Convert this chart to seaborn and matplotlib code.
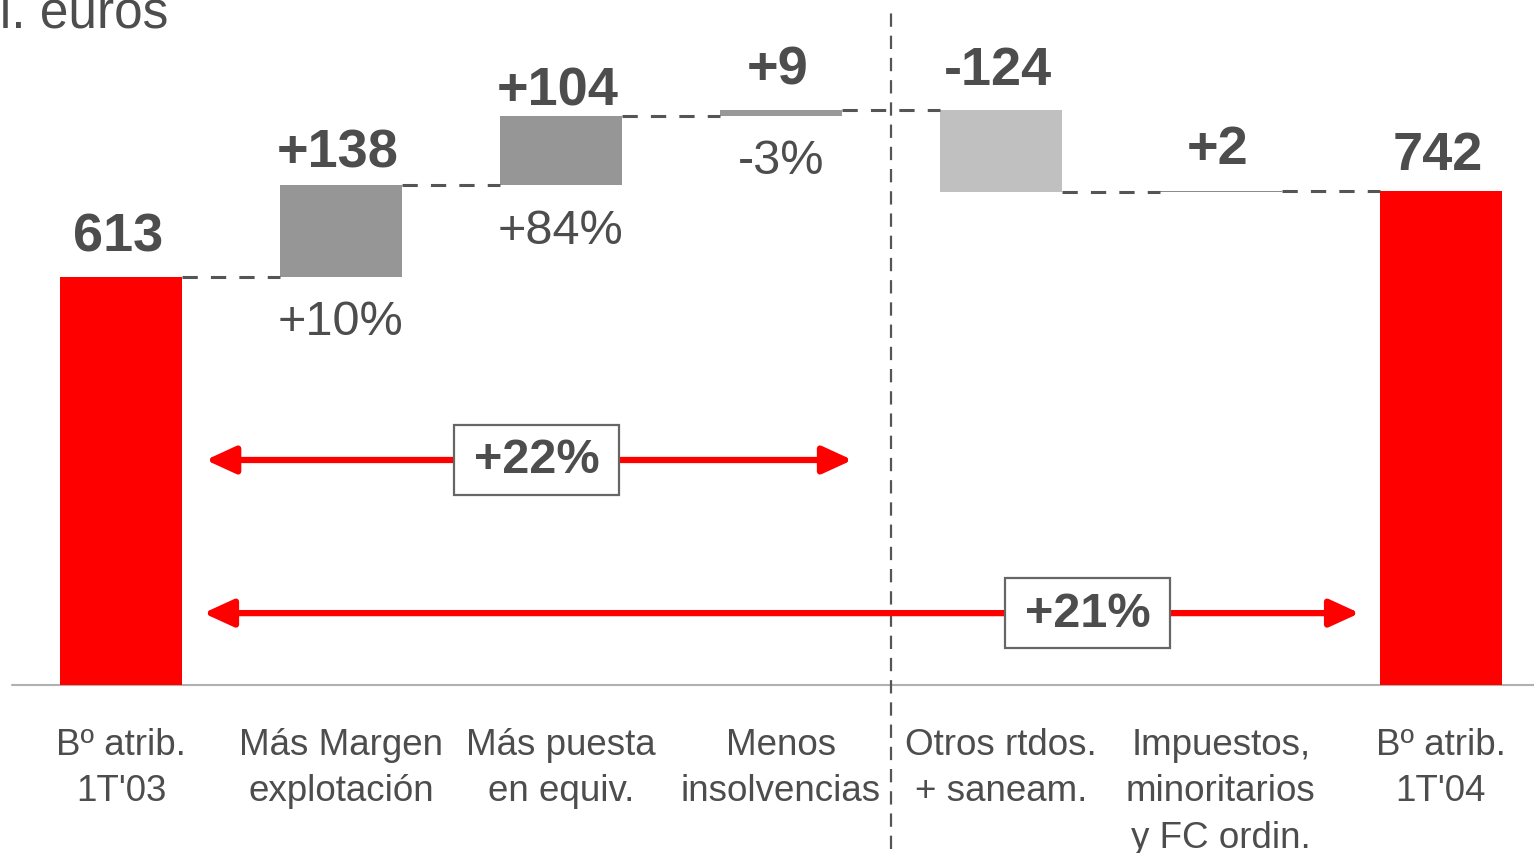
import numpy as np
import pandas as pd
import matplotlib
matplotlib.use("Agg")
import matplotlib.pyplot as plt
from matplotlib.patches import Rectangle
import seaborn as sns

# data
categories = ["Bº atrib.\n1T'03", "Más Margen\nexplotación", "Más puesta\nen equiv.",
              "Menos\ninsolvencias", "Otros rtdos.\n+ saneam.",
              "Impuestos,\nminoritarios\ny FC ordin.", "Bº atrib.\n1T'04"]
values = [613, 138, 104, 9, -124, 2, 742]
is_total = [True, False, False, False, False, False, True]
value_labels = ["613", "+138", "+104", "+9", "-124", "+2", "742"]
pct_labels = ["", "+10%", "+84%", "-3%", "", "", ""]
growth_labels = ["+22%", "+21%"]

# styling
bar_colors = ["#ff0000", "#969696", "#969696", "#999999", "#c0c0c0", "#8c8c8c", "#ff0000"]
label_gap_px = [40, 33, 25, 40, 40, 42, 36]

# waterfall geometry from the values
bottoms, heights, levels = [], [], []
running = 0
for v, tot in zip(values, is_total):
    if tot:
        bottoms.append(0)
        heights.append(v)
        running = v
    else:
        bottoms.append(min(running, running + v))
        heights.append(abs(v))
        running += v
    levels.append(running)

df = pd.DataFrame({"cat": categories, "height": heights})

sns.set_theme(style="white")
plt.rcParams["font.family"] = ["Liberation Sans", "DejaVu Sans"]
txt = "#4d4d4d"

fig = plt.figure(figsize=(15.34, 8.54), dpi=100)
ax = fig.add_axes([0, 0, 1, 1])

width = 0.555
sns.barplot(data=df, x="cat", y="height", order=categories, bottom=bottoms,
            width=width, color="#969696", edgecolor="none", ax=ax)
for patch, c in zip(ax.patches, bar_colors):
    patch.set_facecolor(c)

y_lo, y_hi = -252.3, 1030.4
ax.set_xlim(-0.55, 6.423)
ax.set_ylim(y_lo, y_hi)
ax.axis("off")

px = (y_hi - y_lo) / 854  # data units per pixel (vertical)
pxx = 1 / 220               # data units per pixel (horizontal)

# connectors
for i in range(len(values) - 1):
    ax.plot([i + width / 2, i + 1 - width / 2], [levels[i], levels[i]],
            color="#555555", lw=2.2, dashes=(5, 4.3), zorder=1)

# value labels and percentages
for i in range(len(values)):
    top = bottoms[i] + heights[i]
    ax.text(i - 0.015, top + label_gap_px[i] * px, value_labels[i], ha="center",
            va="center", fontsize=39, fontweight="bold", color=txt)
    if pct_labels[i]:
        ax.text(i, bottoms[i] - 45 * px, pct_labels[i], ha="center", va="center",
                fontsize=35, color=txt)

# category labels
for i, c in enumerate(categories):
    ax.text(i, -42 * px, c, ha="center", va="top", fontsize=26.5, color=txt,
            linespacing=1.42)

# baseline
ax.axhline(0, xmin=12 / 1534, xmax=1, color="#b0b0b0", lw=1.5, zorder=0)

# divider
ax.axvline(3.5, ymin=4 / 854, ymax=842 / 854, color="#555555", lw=1.6,
           dashes=(6, 4), zorder=1)

# growth arrows
arrows = [(0.385, 3.325, 338, 1.888), (0.375, 5.63, 108, 4.393)]
for (x0, x1, y, xb), lab in zip(arrows, growth_labels):
    ax.annotate("", xy=(x1, y), xytext=(x0, y),
                arrowprops=dict(arrowstyle="<|-|>,head_length=0.72,head_width=0.33",
                                color="#ff0000", lw=4.5, shrinkA=0, shrinkB=0,
                                mutation_scale=25))
    bw, bh = 165 * pxx, 70 * px
    ax.add_patch(Rectangle((xb - bw / 2, y - bh / 2), bw, bh, facecolor="white",
                           edgecolor="#666666", lw=1.6, zorder=4))
    ax.text(xb, y, lab, ha="center", va="center", fontsize=35, fontweight="bold",
            color=txt, zorder=5)

fig.text(168 / 1534, 1 - 28 / 854, "Mill. euros", ha="right", va="baseline",
         fontsize=37, color=txt)

fig.savefig("out.png", dpi=100, facecolor="white")
